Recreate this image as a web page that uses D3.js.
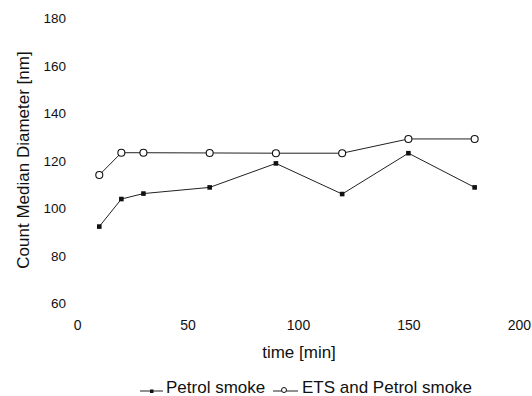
<!DOCTYPE html>
<html><head><meta charset="utf-8">
<script src="https://cdn.jsdelivr.net/npm/d3@7"></script>
<style>body{margin:0;background:#fff}svg{display:block}text{font-family:"Liberation Sans",Arial,sans-serif;fill:#111}</style>
</head><body>
<svg id="c" width="532" height="396"></svg>
<script>
const times = [10, 20, 30, 60, 90, 120, 150, 180];
const petrol = [92.3, 103.9, 106.2, 108.8, 118.9, 106.0, 123.2, 108.8];
const etsPetrol = [114.0, 123.4, 123.4, 123.3, 123.2, 123.2, 129.2, 129.2];
const xTicks = [0, 50, 100, 150, 200];
const yTicks = [60, 80, 100, 120, 140, 160, 180];
const seriesNames = ["Petrol smoke", "ETS and Petrol smoke"];

const svg = d3.select("#c");
const x = d3.scaleLinear().domain([0, 200]).range([77.2, 518.8]);
const y = d3.scaleLinear().domain([60, 180]).range([303.3, 18.3]);

const yAxis = svg.append("g").attr("transform", "translate(66,0)")
  .call(d3.axisLeft(y).tickValues(yTicks).tickSize(0).tickPadding(0));
yAxis.select(".domain").remove();
yAxis.selectAll("text").style("font-size", "13.5px").attr("fill", "#111");

const xAxis = svg.append("g").attr("transform", "translate(0,320)")
  .call(d3.axisBottom(x).tickValues(xTicks).tickSize(0).tickPadding(0));
xAxis.select(".domain").remove();
xAxis.selectAll("text").style("font-size", "14px").attr("fill", "#111");

svg.append("text").attr("x", 299).attr("y", 358).attr("text-anchor", "middle")
  .style("font-size", "17px").text("time [min]");
svg.append("text").attr("transform", "translate(29,160) rotate(-90)").attr("text-anchor", "middle")
  .style("font-size", "17px").text("Count Median Diameter [nm]");

const line = d3.line().x((d, i) => x(times[i])).y(d => y(d));
svg.append("path").datum(petrol).attr("d", line).attr("fill", "none").attr("stroke", "#222").attr("stroke-width", 1);
svg.append("path").datum(etsPetrol).attr("d", line).attr("fill", "none").attr("stroke", "#222").attr("stroke-width", 1);

svg.selectAll(".sq").data(petrol).enter().append("rect")
  .attr("x", (d, i) => x(times[i]) - 2.3).attr("y", d => y(d) - 2.3)
  .attr("width", 4.6).attr("height", 4.6).attr("fill", "#111");
svg.selectAll(".ci").data(etsPetrol).enter().append("circle")
  .attr("cx", (d, i) => x(times[i])).attr("cy", d => y(d)).attr("r", 3.5)
  .attr("fill", "#fff").attr("stroke", "#111").attr("stroke-width", 1.1);

// legend
const lg = svg.append("g");
lg.append("line").attr("x1", 140).attr("x2", 163).attr("y1", 391).attr("y2", 391).attr("stroke", "#222");
lg.append("rect").attr("x", 150).attr("y", 389.5).attr("width", 3.5).attr("height", 3.5).attr("fill", "#111");
lg.append("text").attr("x", 166).attr("y", 393).style("font-size", "17px").text(seriesNames[0]);
lg.append("line").attr("x1", 273).attr("x2", 298).attr("y1", 391).attr("y2", 391).attr("stroke", "#222");
lg.append("circle").attr("cx", 284).attr("cy", 390).attr("r", 2.5).attr("fill", "#fff").attr("stroke", "#111");
lg.append("text").attr("x", 302).attr("y", 393).style("font-size", "17px").text(seriesNames[1]);
</script>
</body></html>
